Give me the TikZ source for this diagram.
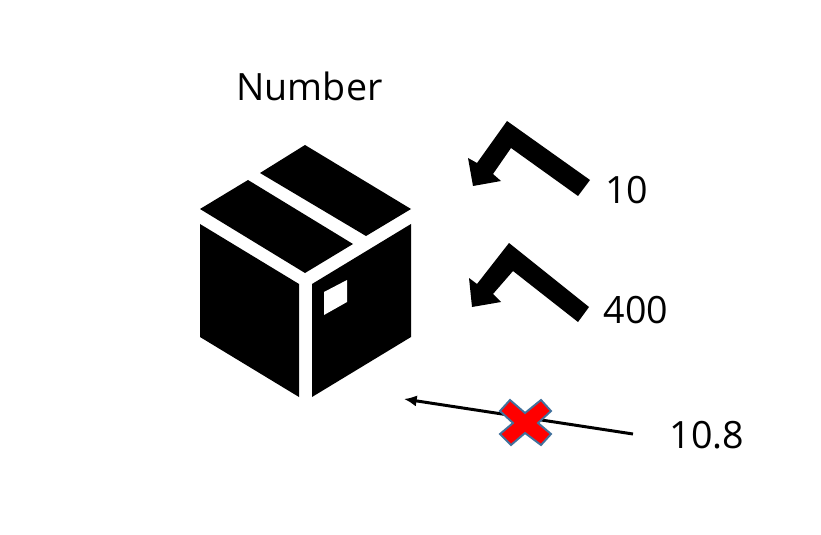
\documentclass[tikz,border=0pt]{standalone}
\usepackage{fontspec}
\setmainfont{Open Sans}
\usepackage{xcolor}
\usetikzlibrary{arrows.meta}
\definecolor{crossred}{RGB}{255,0,0}
\definecolor{crossblue}{RGB}{65,113,156}
\tikzset{
    valuelabel/.style={font=\fontsize{10.7}{13}\selectfont, inner sep=0pt},
    cross/.style={fill=crossred, draw=crossblue, line width=0.55pt, line join=miter}
}

\begin{document}
\begin{tikzpicture}[scale=1]
        \useasboundingbox (0,0) rectangle (8.21,5.34);
        \node[valuelabel] (title) at (3.095,4.48) {Number};
        \fill (3.05,3.89) -- (4.11,3.25) -- (3.66,2.98) -- (2.60,3.61) -- cycle;
        \fill (2.48,3.54) -- (3.53,2.90) -- (3.05,2.61) -- (2.00,3.25) -- cycle;
        \fill (2.00,3.10) -- (2.99,2.50) -- (2.99,1.37) -- (2.00,1.97) -- cycle;
        \fill (3.12,2.50) -- (4.11,3.10) -- (4.11,1.97) -- (3.12,1.37) -- cycle;
        \fill[white] (3.24,2.42) -- (3.47,2.54) -- (3.47,2.32) -- (3.24,2.19) -- cycle;
        \fill (5.07,4.13) -- (5.90,3.54) -- (5.78,3.38) -- (5.11,3.86) -- (4.93,3.60) -- (5.01,3.53) -- (4.73,3.48) -- (4.68,3.76) -- (4.77,3.71) -- cycle;
        \fill (5.09,2.91) -- (5.89,2.27) -- (5.78,2.12) -- (5.13,2.63) -- (4.93,2.40) -- (5.01,2.32) -- (4.72,2.27) -- (4.69,2.56) -- (4.77,2.50) -- cycle;
        \node[valuelabel] (ten) at (6.265,3.44) {10};
        \node[valuelabel] (fourhundred) at (6.36,2.235) {400};
        \node[valuelabel] (decimal) at (7.07,0.99) {10.8};
        \coordinate (tail) at (6.33,1.00);
        \coordinate (tip) at (4.04,1.35);
        \draw[-{Latex[length=3.6pt,width=3.2pt]}, line width=0.85pt] (tail) -- (tip);
        \draw[cross] (5.10,1.34) -- (5.25,1.21) -- (5.41,1.34) -- (5.51,1.23) -- (5.38,1.11) -- (5.51,1.00) -- (5.41,0.89) -- (5.25,1.01) -- (5.11,0.89) -- (5.00,1.00) -- (5.13,1.11) -- (5.00,1.23) -- cycle;
    \end{tikzpicture}
\end{document}
